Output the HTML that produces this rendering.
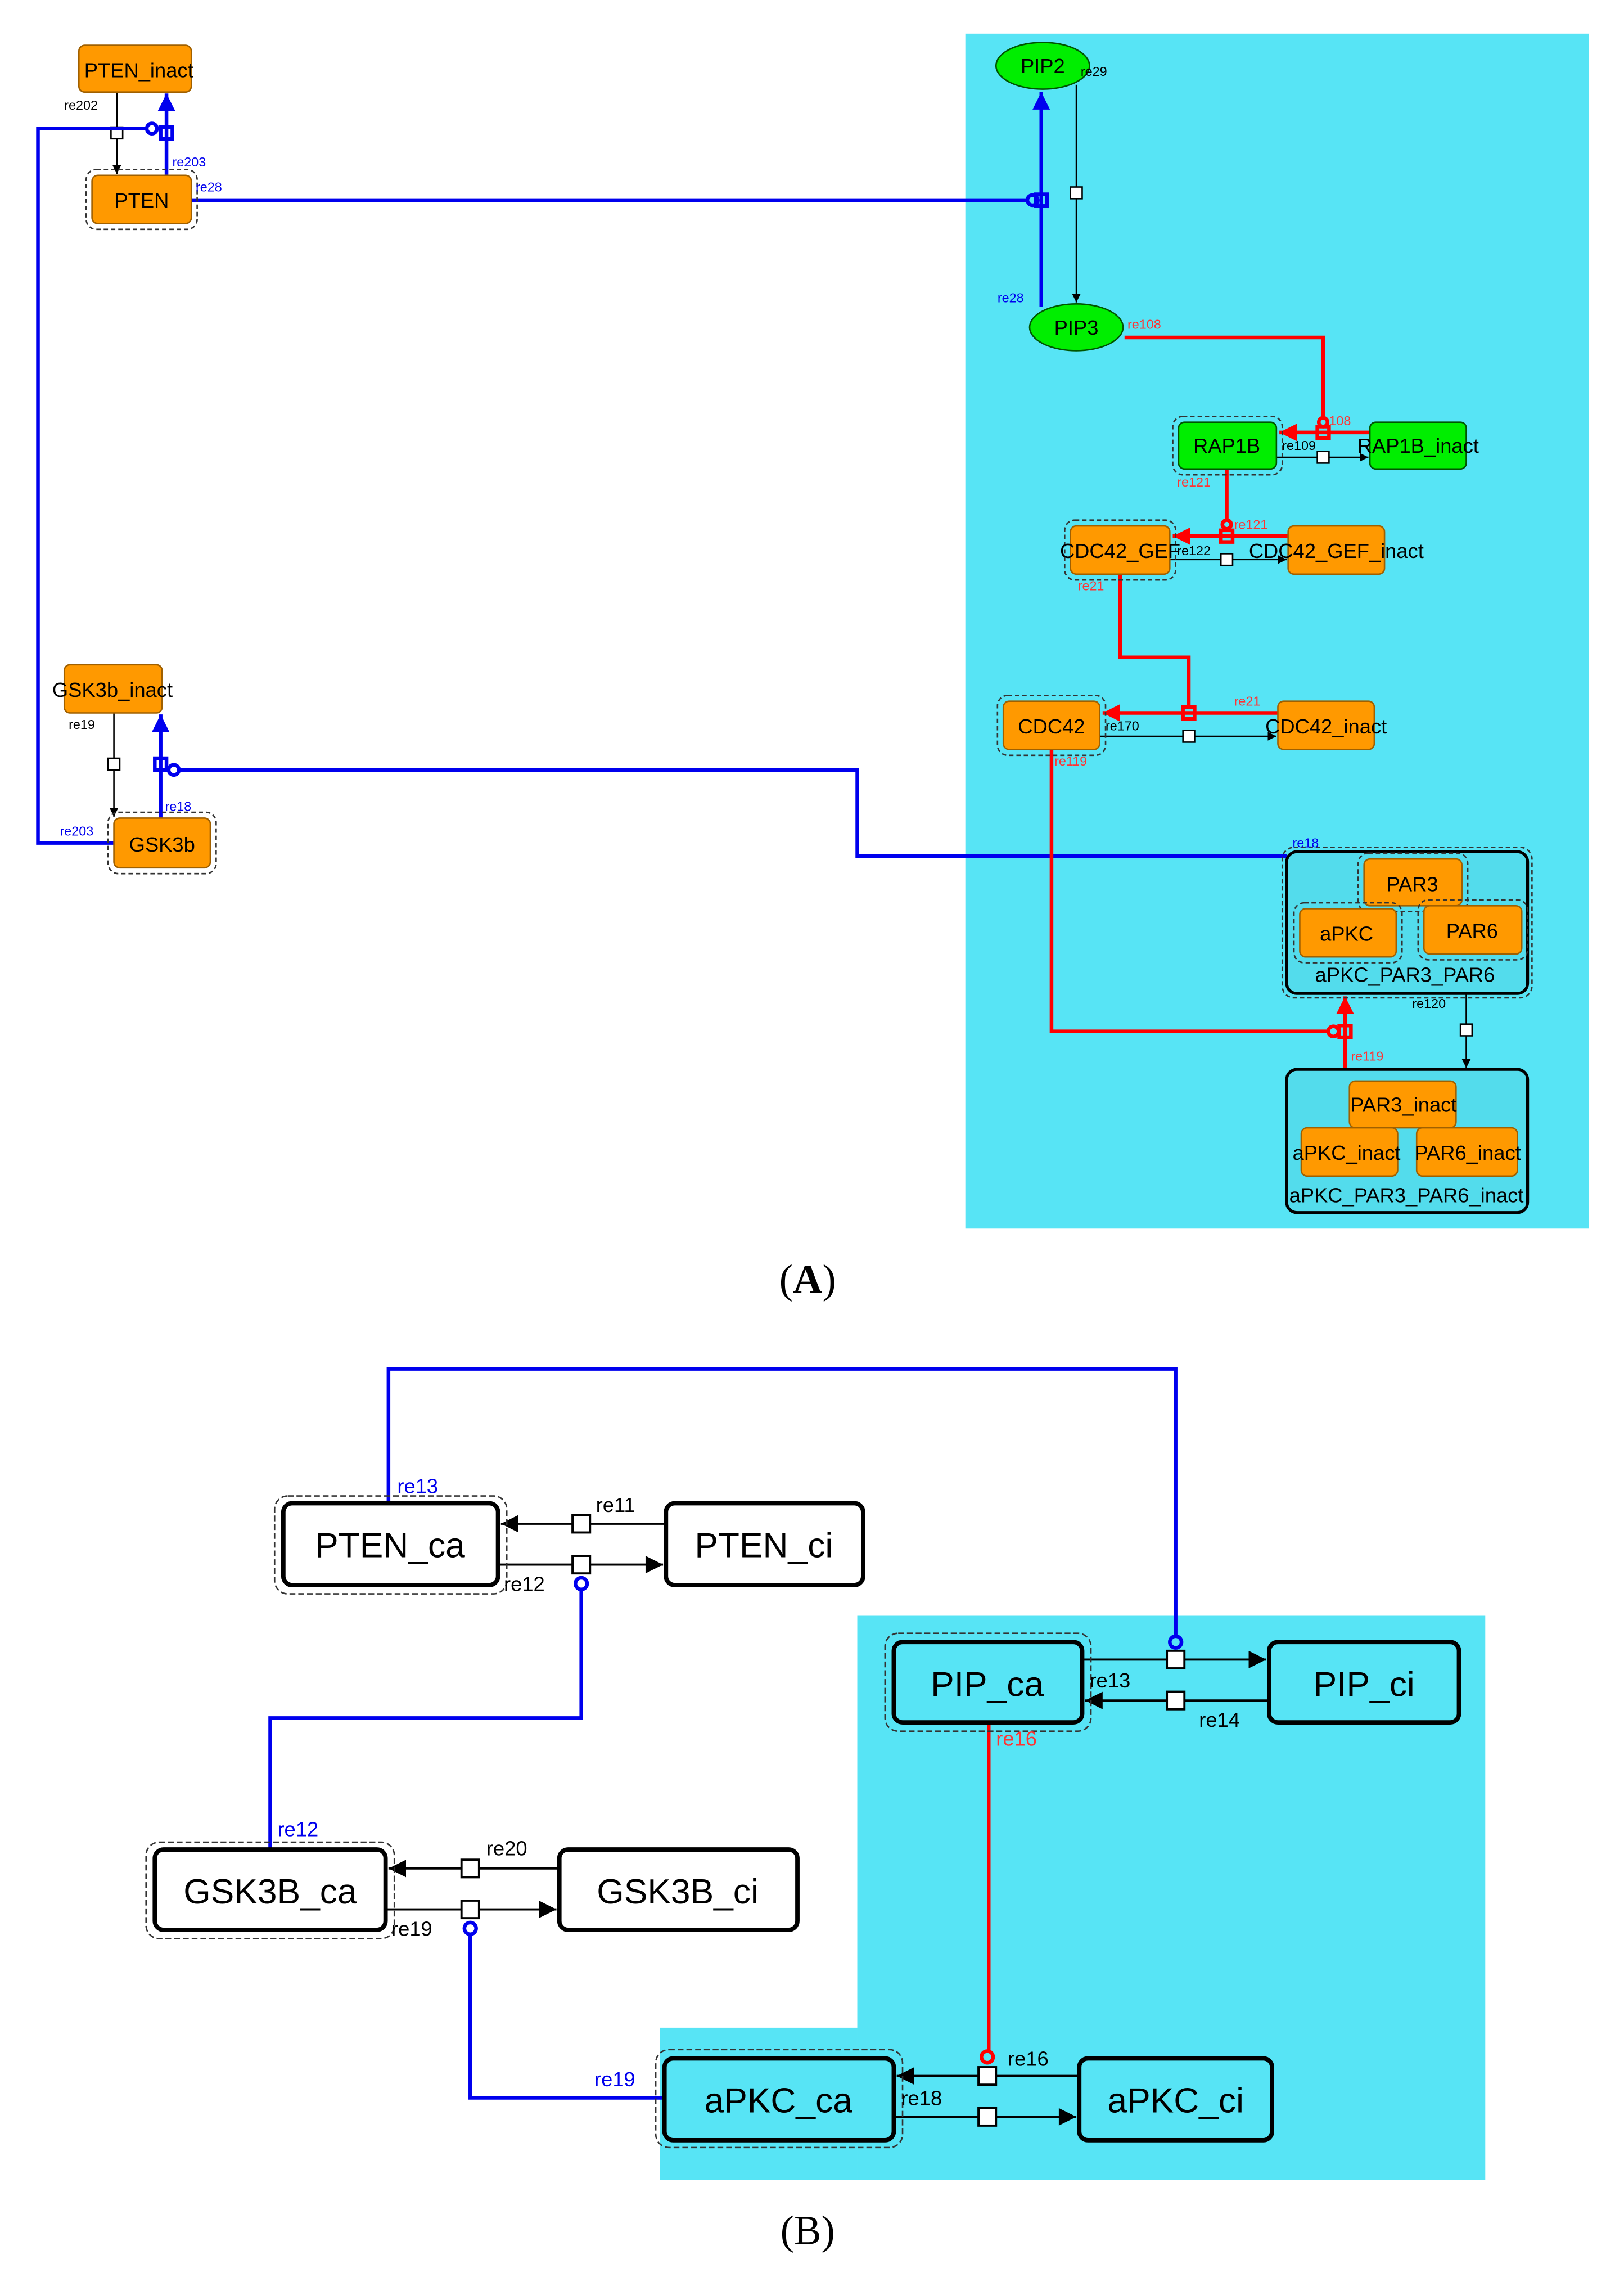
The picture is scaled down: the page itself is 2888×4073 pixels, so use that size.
<!DOCTYPE html>
<html><head><meta charset="utf-8"><style>
html,body{margin:0;padding:0;background:#fff;}
svg{display:block;}
text{font-family:"Liberation Sans",sans-serif;}
</style></head><body>
<svg width="2888" height="4073" viewBox="0 0 1112 1568.2" xmlns="http://www.w3.org/2000/svg">
<defs>
<marker id="ab" viewBox="0 0 10 10" refX="10" refY="5" markerWidth="6" markerHeight="6" orient="auto" markerUnits="userSpaceOnUse"><path d="M0,0L10,5L0,10z" fill="#000"/></marker>
<marker id="abB" viewBox="0 0 10 10" refX="10" refY="5" markerWidth="14" markerHeight="12" orient="auto" markerUnits="userSpaceOnUse"><path d="M0,0L10,5L0,10z" fill="#000"/></marker>
<marker id="au" viewBox="0 0 10 10" refX="10" refY="5" markerWidth="12" markerHeight="12" orient="auto" markerUnits="userSpaceOnUse"><path d="M0,0L10,5L0,10z" fill="#0000ee"/></marker>
<marker id="ar" viewBox="0 0 10 10" refX="10" refY="5" markerWidth="12" markerHeight="12" orient="auto" markerUnits="userSpaceOnUse"><path d="M0,0L10,5L0,10z" fill="#ff0000"/></marker>
</defs>
<rect width="1112" height="1570" fill="#fff"/>
<!-- Panel A -->
<rect x="661" y="23" width="427" height="818" fill="#57e4f5"/>

<g stroke="#000" stroke-width="1" fill="none">
<line x1="80" y1="63" x2="80" y2="119" marker-end="url(#ab)"/>
<line x1="78" y1="488" x2="78" y2="559" marker-end="url(#ab)"/>
<line x1="737" y1="58" x2="737" y2="207" marker-end="url(#ab)"/>
<line x1="874" y1="313" x2="937" y2="313" marker-end="url(#ab)"/>
<line x1="801" y1="383" x2="881" y2="383" marker-end="url(#ab)"/>
<line x1="753" y1="504" x2="874" y2="504" marker-end="url(#ab)"/>
<line x1="1004" y1="680" x2="1004" y2="731" marker-end="url(#ab)"/>
</g>
<g fill="#fff" stroke="#000" stroke-width="1">
<rect x="76" y="87" width="8" height="8"/><rect x="74" y="519" width="8" height="8"/>
<rect x="733" y="128" width="8" height="8"/><rect x="902" y="309" width="8" height="8"/>
<rect x="836" y="379" width="8" height="8"/><rect x="810" y="500" width="8" height="8"/>
<rect x="1000" y="701" width="8" height="8"/>
</g>

<g stroke="#0000ee" stroke-width="2.5" fill="none">
<line x1="131" y1="137" x2="703" y2="137"/>
<line x1="713" y1="210" x2="713" y2="63" marker-end="url(#au)"/>
<polyline points="881,586 587,586 587,527 123,527"/>
<line x1="110" y1="560" x2="110" y2="489" marker-end="url(#au)"/>
<polyline points="78,577 26,577 26,88 100,88"/>
<line x1="114" y1="120" x2="114" y2="64" marker-end="url(#au)"/>
<circle cx="707" cy="137" r="3.5"/><rect x="709" y="133" width="8" height="8"/>
<circle cx="119" cy="527" r="3.5"/><rect x="106" y="519" width="8" height="8"/>
<circle cx="104" cy="88" r="3.5"/><rect x="110" y="87" width="8" height="8"/>
</g>

<g stroke="#ff0000" stroke-width="2.5" fill="none">
<polyline points="770,231 906,231 906,286"/>
<line x1="938" y1="296" x2="876" y2="296" marker-end="url(#ar)"/>
<line x1="840" y1="321" x2="840" y2="356"/>
<line x1="882" y1="367" x2="803" y2="367" marker-end="url(#ar)"/>
<polyline points="767,393 767,450 814,450 814,484"/>
<line x1="875" y1="488" x2="755" y2="488" marker-end="url(#ar)"/>
<polyline points="720,513 720,706 909,706"/>
<line x1="921" y1="732" x2="921" y2="682" marker-end="url(#ar)"/>
<circle cx="906" cy="289" r="3"/><rect x="902" y="292" width="8" height="8"/>
<circle cx="840" cy="359" r="3"/><rect x="836" y="363" width="8" height="8"/>
<rect x="810" y="484" width="8" height="8"/>
<circle cx="913" cy="706" r="3.5"/><rect x="917" y="702" width="8" height="8"/>
</g>

<!-- nodes A -->
<g font-size="14" text-anchor="middle">
<rect x="54" y="31" width="77" height="32" rx="4" fill="#ff9900" stroke="#a06000"/>
<text x="95" y="53">PTEN_inact</text>
<rect x="59" y="116" width="76" height="41" rx="7" fill="none" stroke="#333" stroke-dasharray="3,2"/>
<rect x="63" y="120" width="68" height="33" rx="4" fill="#ff9900" stroke="#a06000"/>
<text x="97" y="142">PTEN</text>
<ellipse cx="714" cy="45" rx="32" ry="16" fill="#00ee00" stroke="#005500"/>
<text x="714" y="50">PIP2</text>
<ellipse cx="737" cy="224" rx="32" ry="16" fill="#00ee00" stroke="#005500"/>
<text x="737" y="229">PIP3</text>
<rect x="803" y="285" width="75" height="40" rx="7" fill="none" stroke="#333" stroke-dasharray="3,2"/>
<rect x="807" y="289" width="67" height="32" rx="4" fill="#00ee00" stroke="#005500"/>
<text x="840" y="310">RAP1B</text>
<rect x="938" y="289" width="66" height="32" rx="4" fill="#00ee00" stroke="#005500"/>
<text x="971" y="310">RAP1B_inact</text>
<rect x="729" y="356" width="76" height="41" rx="7" fill="none" stroke="#333" stroke-dasharray="3,2"/>
<rect x="733" y="360" width="68" height="33" rx="4" fill="#ff9900" stroke="#a06000"/>
<text x="767" y="382">CDC42_GEF</text>
<rect x="882" y="360" width="66" height="33" rx="4" fill="#ff9900" stroke="#a06000"/>
<text x="915" y="382">CDC42_GEF_inact</text>
<rect x="683" y="476" width="74" height="41" rx="7" fill="none" stroke="#333" stroke-dasharray="3,2"/>
<rect x="687" y="480" width="66" height="33" rx="4" fill="#ff9900" stroke="#a06000"/>
<text x="720" y="502">CDC42</text>
<rect x="875" y="480" width="66" height="33" rx="4" fill="#ff9900" stroke="#a06000"/>
<text x="908" y="502">CDC42_inact</text>
<rect x="44" y="455" width="67" height="33" rx="4" fill="#ff9900" stroke="#a06000"/>
<text x="77" y="477">GSK3b_inact</text>
<rect x="74" y="556" width="74" height="42" rx="7" fill="none" stroke="#333" stroke-dasharray="3,2"/>
<rect x="78" y="560" width="66" height="34" rx="4" fill="#ff9900" stroke="#a06000"/>
<text x="111" y="583">GSK3b</text>
<rect x="878" y="580" width="171" height="103" rx="8" fill="none" stroke="#333" stroke-dasharray="3,2"/>
<rect x="881" y="583" width="165" height="97" rx="7" fill="#53dcec" stroke="#000" stroke-width="2"/>
<rect x="930" y="584" width="75" height="40" rx="7" fill="none" stroke="#333" stroke-dasharray="3,2"/>
<rect x="934" y="588" width="67" height="32" rx="4" fill="#ff9900" stroke="#a06000"/>
<text x="967" y="610">PAR3</text>
<rect x="886" y="618" width="74" height="41" rx="7" fill="none" stroke="#333" stroke-dasharray="3,2"/>
<rect x="890" y="622" width="66" height="33" rx="4" fill="#ff9900" stroke="#a06000"/>
<text x="922" y="644">aPKC</text>
<rect x="971" y="616" width="75" height="41" rx="7" fill="none" stroke="#333" stroke-dasharray="3,2"/>
<rect x="975" y="620" width="67" height="33" rx="4" fill="#ff9900" stroke="#a06000"/>
<text x="1008" y="642">PAR6</text>
<text x="962" y="672">aPKC_PAR3_PAR6</text>
<rect x="881" y="732" width="165" height="98" rx="7" fill="#53dcec" stroke="#000" stroke-width="2"/>
<rect x="924" y="740" width="73" height="32" rx="4" fill="#ff9900" stroke="#a06000"/>
<text x="961" y="761">PAR3_inact</text>
<rect x="891" y="772" width="66" height="33" rx="4" fill="#ff9900" stroke="#a06000"/>
<text x="922" y="794">aPKC_inact</text>
<rect x="970" y="772" width="69" height="33" rx="4" fill="#ff9900" stroke="#a06000"/>
<text x="1005" y="794">PAR6_inact</text>
<text x="963" y="823">aPKC_PAR3_PAR6_inact</text>
</g>

<g font-size="9">
<text x="44" y="75" fill="#000">re202</text>
<text x="47" y="499" fill="#000">re19</text>
<text x="740" y="52" fill="#000">re29</text>
<text x="967" y="690" fill="#000">re120</text>
<text x="878" y="308" fill="#000">re109</text>
<text x="806" y="380" fill="#000">re122</text>
<text x="757" y="500" fill="#000">re170</text>
<g fill="#0000ee">
<text x="118" y="114">re203</text><text x="134" y="131">re28</text>
<text x="683" y="207">re28</text><text x="885" y="580">re18</text>
<text x="113" y="555">re18</text><text x="41" y="572">re203</text>
</g>
<g fill="#ff3333">
<text x="772" y="225">re108</text><text x="910" y="291">108</text>
<text x="806" y="333">re121</text><text x="845" y="362">re121</text>
<text x="738" y="404">re21</text><text x="845" y="483">re21</text>
<text x="722" y="524">re119</text><text x="925" y="726">re119</text>
</g>
</g>
<text x="553" y="885" font-size="28" text-anchor="middle" style="font-family:'Liberation Serif',serif">(<tspan font-weight="bold">A</tspan>)</text>

<!-- Panel B -->
<rect x="587" y="1106" width="430" height="386" fill="#57e4f5"/>
<rect x="452" y="1388" width="135" height="104" fill="#57e4f5"/>

<g stroke="#000" stroke-width="1.5" fill="none">
<line x1="456" y1="1043" x2="343" y2="1043" marker-end="url(#abB)"/>
<line x1="341" y1="1071" x2="454" y2="1071" marker-end="url(#abB)"/>
<line x1="741" y1="1136" x2="867" y2="1136" marker-end="url(#abB)"/>
<line x1="869" y1="1164" x2="743" y2="1164" marker-end="url(#abB)"/>
<line x1="383" y1="1279" x2="266" y2="1279" marker-end="url(#abB)"/>
<line x1="264" y1="1307" x2="381" y2="1307" marker-end="url(#abB)"/>
<line x1="739" y1="1421" x2="614" y2="1421" marker-end="url(#abB)"/>
<line x1="612" y1="1449" x2="737" y2="1449" marker-end="url(#abB)"/>
</g>
<g fill="#fff" stroke="#000" stroke-width="1.5">
<rect x="392" y="1037" width="12" height="12"/><rect x="392" y="1065" width="12" height="12"/>
<rect x="799" y="1130" width="12" height="12"/><rect x="799" y="1158" width="12" height="12"/>
<rect x="316" y="1273" width="12" height="12"/><rect x="316" y="1301" width="12" height="12"/>
<rect x="670" y="1415" width="12" height="12"/><rect x="670" y="1443" width="12" height="12"/>
</g>
<g stroke="#0000ee" stroke-width="2.5" fill="none">
<polyline points="398,1088 398,1176 185,1176 185,1266"/>
<polyline points="266,1029 266,937 805,937 805,1120"/>
<polyline points="322,1325 322,1436 455,1436"/>
<circle cx="398" cy="1084" r="4"/><circle cx="805" cy="1124" r="4"/><circle cx="322" cy="1320" r="4"/>
</g>
<g stroke="#ff0000" stroke-width="2.5" fill="none">
<line x1="677" y1="1179" x2="677" y2="1404"/>
<circle cx="676" cy="1408" r="4"/>
</g>

<g font-size="24" text-anchor="middle">
<rect x="188" y="1024" width="159" height="67" rx="9" fill="none" stroke="#333" stroke-dasharray="4,2"/>
<rect x="194" y="1029" width="147" height="56" rx="6" fill="#fff" stroke="#000" stroke-width="3"/>
<text x="267" y="1066">PTEN_ca</text>
<rect x="456" y="1029" width="135" height="56" rx="6" fill="#fff" stroke="#000" stroke-width="3"/>
<text x="523" y="1066">PTEN_ci</text>
<rect x="606" y="1118" width="141" height="67" rx="9" fill="none" stroke="#333" stroke-dasharray="4,2"/>
<rect x="612" y="1124" width="129" height="55" rx="6" fill="#57e4f5" stroke="#000" stroke-width="3"/>
<text x="676" y="1161">PIP_ca</text>
<rect x="869" y="1124" width="130" height="55" rx="6" fill="#57e4f5" stroke="#000" stroke-width="3"/>
<text x="934" y="1161">PIP_ci</text>
<rect x="100" y="1261" width="170" height="66" rx="9" fill="none" stroke="#333" stroke-dasharray="4,2"/>
<rect x="106" y="1266" width="158" height="55" rx="6" fill="#fff" stroke="#000" stroke-width="3"/>
<text x="185" y="1303">GSK3B_ca</text>
<rect x="383" y="1266" width="163" height="55" rx="6" fill="#fff" stroke="#000" stroke-width="3"/>
<text x="464" y="1303">GSK3B_ci</text>
<rect x="449" y="1403" width="169" height="67" rx="9" fill="none" stroke="#333" stroke-dasharray="4,2"/>
<rect x="455" y="1409" width="157" height="56" rx="6" fill="#57e4f5" stroke="#000" stroke-width="3"/>
<text x="533" y="1446">aPKC_ca</text>
<rect x="739" y="1409" width="132" height="56" rx="6" fill="#57e4f5" stroke="#000" stroke-width="3"/>
<text x="805" y="1446">aPKC_ci</text>
</g>
<g font-size="14">
<text x="408" y="1035">re11</text><text x="345" y="1089">re12</text>
<text x="746" y="1155">re13</text><text x="821" y="1182">re14</text>
<text x="333" y="1270">re20</text><text x="268" y="1325">re19</text>
<text x="690" y="1414">re16</text><text x="617" y="1441">re18</text>
<g fill="#0000ee"><text x="272" y="1022">re13</text><text x="190" y="1257">re12</text><text x="407" y="1428">re19</text></g>
<text x="682" y="1195" fill="#ff3333">re16</text>
</g>
<text x="553" y="1536" font-size="28" text-anchor="middle" style="font-family:'Liberation Serif',serif">(B)</text>
</svg>
</body></html>
